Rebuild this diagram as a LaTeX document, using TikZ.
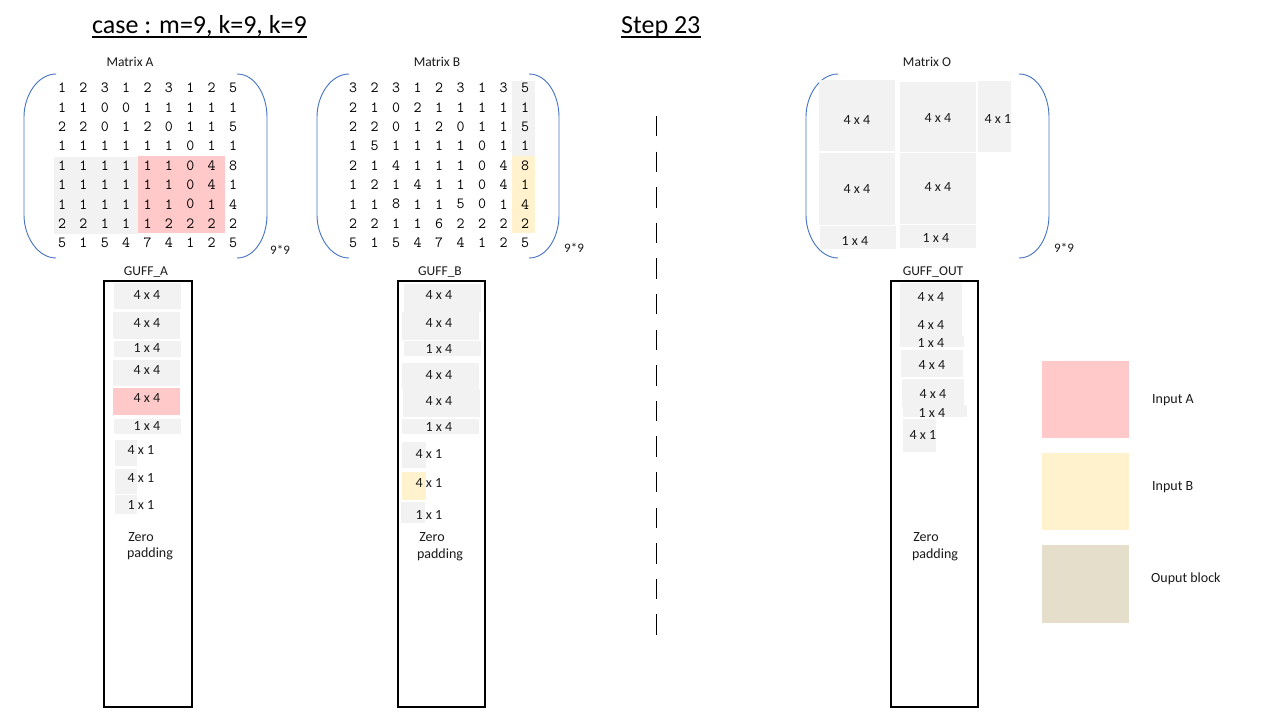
\documentclass[tikz,border=0pt]{standalone}
\usepackage{fontspec}
\setmainfont{Carlito}
\definecolor{cgray}{HTML}{F2F2F2}
\definecolor{cpink}{HTML}{FFC9C9}
\definecolor{cyel}{HTML}{FFF2CC}
\definecolor{ctan}{HTML}{E5DECB}
\definecolor{cblue}{HTML}{4472C4}
\definecolor{ctext}{HTML}{1A1A1A}
\begin{document}
\begin{tikzpicture}[x=1pt,y=-1pt,
  lbl/.style={font=\fontsize{13.5}{15}\selectfont, text=ctext, inner sep=0pt, text height=8.7pt, text depth=0pt},
  blbl/.style={font=\fontsize{14}{16}\selectfont, text=ctext, inner sep=0pt, text height=9pt, text depth=0pt},
  sml/.style={font=\fontsize{13}{15}\selectfont, text=ctext, inner sep=0pt, text height=8.4pt, text depth=0pt},
  dig/.style={font=\ttfamily\fontsize{15.5}{17}\selectfont, inner sep=0pt},
  ttl/.style={font=\fontsize{26}{30}\selectfont, inner sep=0pt, anchor=base west, text=black},
  brk/.style={draw=cblue, line width=0.9pt},
  guffbox/.style={draw=black, line width=1.1pt},
  dashline/.style={draw=black, line width=1.1pt, dash pattern=on 20.3pt off 15.3pt}
]
\useasboundingbox (0,0) rectangle (1280,720);
\fill[white] (0,0) rectangle (1280,720);

% titles
\node[ttl] (title) at (92,33) {case : m=9, k=9, k=9};
\draw[line width=1.6pt] ([yshift=-4pt]title.base west) -- ([yshift=-4pt]title.base east);
\node[ttl] (step) at (621,33) {Step 23};
\draw[line width=1.6pt] ([yshift=-4pt]step.base west) -- ([yshift=-4pt]step.base east);

% matrix labels
\node[lbl] (labA) at (130,62) {Matrix A};
\node[lbl] (labB) at (437,62) {Matrix B};
\node[lbl] (labO) at (927,62) {Matrix O};

% highlight regions in A and B
\fill[cgray] (54,157) rectangle (138,234);
\fill[cpink] (138,156) rectangle (225,233);
\fill[cgray] (512,81) rectangle (535,156);
\fill[cyel] (512,156) rectangle (535,233);

% brackets
\foreach \xl/\xr in {24/267, 317/559, 806/1049} {
  \draw[brk] ({\xl+32},74) .. controls ({\xl+14},74) and (\xl,95) .. (\xl,117) -- (\xl,215) .. controls (\xl,237) and ({\xl+14},258) .. ({\xl+32},258);
  \draw[brk] ({\xr-30},74) .. controls ({\xr-12},74) and (\xr,95) .. (\xr,117) -- (\xr,215) .. controls (\xr,237) and ({\xr-12},258) .. ({\xr-30},258);
}

% Matrix A digits
\foreach \rowv [count=\r] in {{1,2,3,1,2,3,1,2,5},{1,1,0,0,1,1,1,1,1},{2,2,0,1,2,0,1,1,5},{1,1,1,1,1,1,0,1,1},{1,1,1,1,1,1,0,4,8},{1,1,1,1,1,1,0,4,1},{1,1,1,1,1,1,0,1,4},{2,2,1,1,1,2,2,2,2},{5,1,5,4,7,4,1,2,5}} {
  \foreach \v [count=\c] in \rowv {
    \node[dig] (A-\r-\c) at ({62+(\c-1)*21.375},{88+(\r-1)*19.375}) {\v};
  }
}
% Matrix B digits
\foreach \rowv [count=\r] in {{3,2,3,1,2,3,1,3,5},{2,1,0,2,1,1,1,1,1},{2,2,0,1,2,0,1,1,5},{1,5,1,1,1,1,0,1,1},{2,1,4,1,1,1,0,4,8},{1,2,1,4,1,1,0,4,1},{1,1,8,1,1,5,0,1,4},{2,2,1,1,6,2,2,2,2},{5,1,5,4,7,4,1,2,5}} {
  \foreach \v [count=\c] in \rowv {
    \node[dig] (B-\r-\c) at ({353+(\c-1)*21.5},{88+(\r-1)*19.375}) {\v};
  }
}

% Matrix O blocks
\fill[cgray] (819,80) rectangle (895,151);
\fill[cgray] (900,82) rectangle (976,152);
\fill[cgray] (978,81) rectangle (1011,152);
\fill[cgray] (819,153) rectangle (895,225);
\fill[cgray] (900,153) rectangle (976,224);
\fill[cgray] (820,226) rectangle (896,249);
\fill[cgray] (900,225) rectangle (976,248);
\node[blbl] (o11) at (857,120) {4 x 4};
\node[blbl] (o12) at (938,118) {4 x 4};
\node[blbl] (o13) at (998,119) {4 x 1};
\node[blbl] (o21) at (857,189) {4 x 4};
\node[blbl] (o22) at (938,187) {4 x 4};
\node[blbl] (o31) at (855,241) {1 x 4};
\node[blbl] (o32) at (936,238) {1 x 4};

% size labels
\node[sml, anchor=west] (szA) at (270,250) {9*9};
\node[sml, anchor=west] (szB) at (564,248) {9*9};
\node[sml, anchor=west] (szO) at (1054,248) {9*9};

% GUFF labels and boxes
\node[lbl] (gA) at (146,271) {GUFF\_A};
\node[lbl] (gB) at (440,271) {GUFF\_B};
\node[lbl] (gO) at (933,271) {GUFF\_OUT};
\draw[guffbox] (104,281) rectangle (192,707);
\draw[guffbox] (398,281) rectangle (485,707);
\draw[guffbox] (891,281) rectangle (978,707);

% GUFF_A blocks
\fill[cgray] (114,283) rectangle (181,309);
\fill[cgray] (113,312) rectangle (180,339);
\fill[cgray] (114,341) rectangle (181,357);
\fill[cgray] (113,360) rectangle (180,386);
\fill[cpink] (113,388) rectangle (180,415);
\fill[cgray] (114,419) rectangle (181,434);
\fill[cgray] (115,440) rectangle (137,466);
\fill[cgray] (115,469) rectangle (137,494);
\fill[cgray] (115,495) rectangle (137,514);
\node[blbl] (a1) at (147,295) {4 x 4};
\node[blbl] (a2) at (147,323) {4 x 4};
\node[blbl] (a3) at (147,348) {1 x 4};
\node[blbl] (a4) at (147,370) {4 x 4};
\node[blbl] (a5) at (147,398) {4 x 4};
\node[blbl] (a6) at (147,426) {1 x 4};
\node[blbl] (a7) at (141,450) {4 x 1};
\node[blbl] (a8) at (141,478) {4 x 1};
\node[blbl] (a9) at (141,505) {1 x 1};
\node[blbl] (aZ) at (141,537) {Zero};
\node[blbl] (aP) at (150,553) {padding};

% GUFF_B blocks
\fill[cgray] (404,284) rectangle (481,312);
\fill[cgray] (402,312) rectangle (479,340);
\fill[cgray] (404,341) rectangle (481,356);
\fill[cgray] (402,363) rectangle (479,389);
\fill[cgray] (403,389) rectangle (480,417);
\fill[cgray] (402,419) rectangle (479,434);
\fill[cgray] (402,442) rectangle (426,468);
\fill[cyel] (402,472) rectangle (426,500);
\fill[cgray] (401,502) rectangle (425,523);
\node[blbl] (b1) at (439,295) {4 x 4};
\node[blbl] (b2) at (439,323) {4 x 4};
\node[blbl] (b3) at (439,349) {1 x 4};
\node[blbl] (b4) at (439,375) {4 x 4};
\node[blbl] (b5) at (439,401) {4 x 4};
\node[blbl] (b6) at (439,427) {1 x 4};
\node[blbl] (b7) at (429,454) {4 x 1};
\node[blbl] (b8) at (429,483) {4 x 1};
\node[blbl] (b9) at (429,515) {1 x 1};
\node[blbl] (bZ) at (432,537) {Zero};
\node[blbl] (bP) at (440,554) {padding};

% GUFF_OUT blocks
\fill[cgray] (900,283) rectangle (962,311);
\fill[cgray] (900,311) rectangle (962,336);
\fill[cgray] (900,336) rectangle (964,347);
\fill[cgray] (901,350) rectangle (963,377);
\fill[cgray] (902,379) rectangle (964,407);
\fill[cgray] (903,405) rectangle (967,417);
\fill[cgray] (903,419) rectangle (936,452);
\node[blbl] (c1) at (931,297) {4 x 4};
\node[blbl] (c2) at (931,325) {4 x 4};
\node[blbl] (c3) at (931,343) {1 x 4};
\node[blbl] (c4) at (932,365) {4 x 4};
\node[blbl] (c5) at (933,394) {4 x 4};
\node[blbl] (c6) at (932,413) {1 x 4};
\node[blbl] (c7) at (923,435) {4 x 1};
\node[blbl] (cZ) at (926,537) {Zero};
\node[blbl] (cP) at (935,554) {padding};

% dashed divider
\coordinate (dtop) at (656.5,116);
\coordinate (dbot) at (656.5,636);
\draw[dashline] (dtop) -- (dbot);

% legend
\fill[cpink] (1042,361) rectangle (1129,438);
\fill[cyel] (1042,453) rectangle (1129,530);
\fill[ctan] (1042,545) rectangle (1129,623);
\node[blbl, anchor=west] (legA) at (1152,399) {Input A};
\node[blbl, anchor=west] (legB) at (1152,486) {Input B};
\node[blbl, anchor=west] (legO) at (1151,578) {Ouput block};
\end{tikzpicture}
\end{document}
